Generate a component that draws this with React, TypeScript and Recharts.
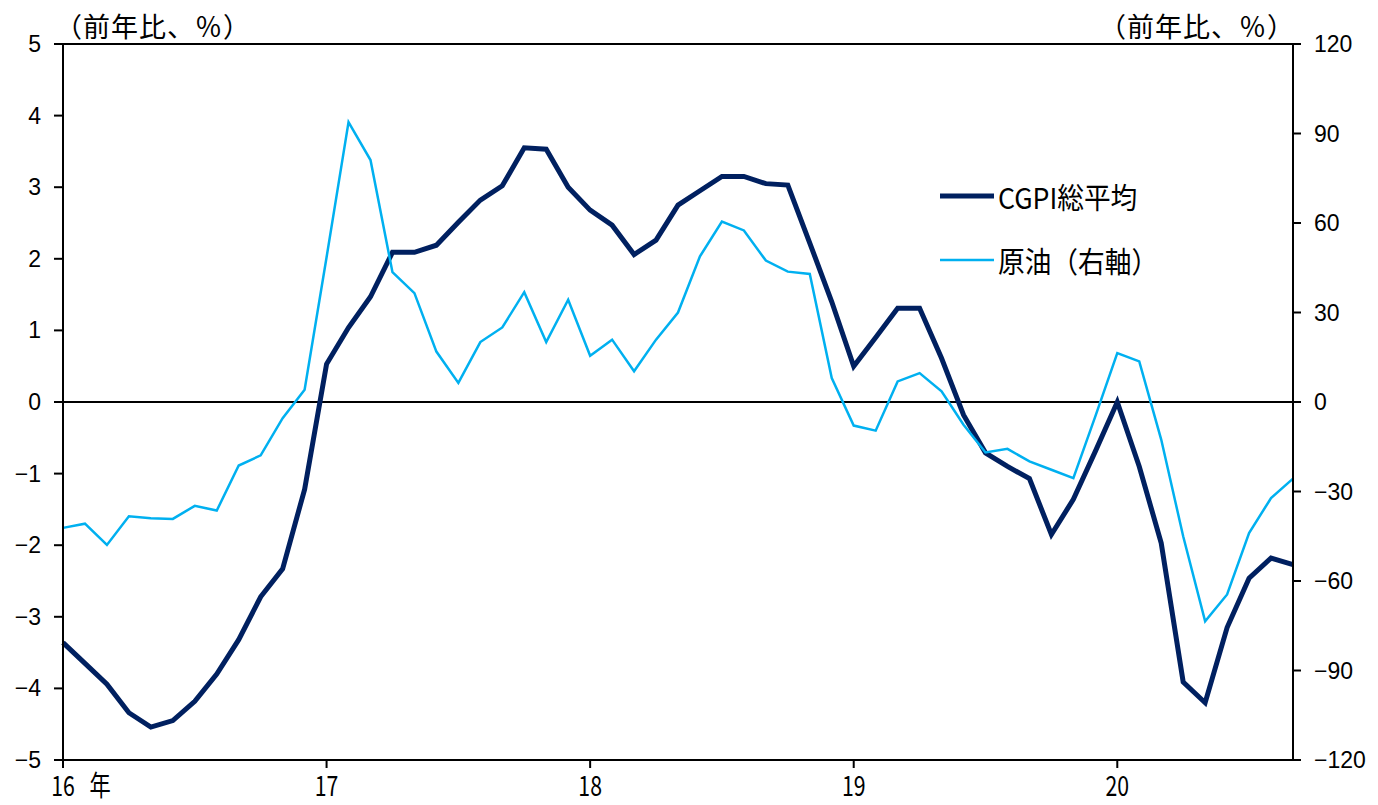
import React from 'react';
import { LineChart, Line, XAxis, YAxis, ReferenceLine, Legend } from 'recharts';

// Monthly observations, Jan 2016 – Sep 2020
const months = [
  '16/01', '16/02', '16/03', '16/04', '16/05', '16/06', '16/07', '16/08', '16/09', '16/10', '16/11', '16/12',
  '17/01', '17/02', '17/03', '17/04', '17/05', '17/06', '17/07', '17/08', '17/09', '17/10', '17/11', '17/12',
  '18/01', '18/02', '18/03', '18/04', '18/05', '18/06', '18/07', '18/08', '18/09', '18/10', '18/11', '18/12',
  '19/01', '19/02', '19/03', '19/04', '19/05', '19/06', '19/07', '19/08', '19/09', '19/10', '19/11', '19/12',
  '20/01', '20/02', '20/03', '20/04', '20/05', '20/06', '20/07', '20/08', '20/09',
];

// CGPI overall average, y/y % (left axis)
const cgpi = [
  -3.36, -3.65, -3.94, -4.34, -4.54, -4.45, -4.18, -3.8, -3.32, -2.72, -2.33, -1.22,
  0.53, 1.04, 1.47, 2.09, 2.09, 2.19, 2.51, 2.82, 3.02, 3.55, 3.53, 3.0,
  2.68, 2.47, 2.06, 2.26, 2.75, 2.95, 3.15, 3.15, 3.05, 3.03, 2.22, 1.4,
  0.5, 0.9, 1.31, 1.31, 0.61, -0.18, -0.71, -0.9, -1.07, -1.85, -1.36, -0.69,
  0.0, -0.9, -1.97, -3.91, -4.2, -3.15, -2.46, -2.18, -2.27,
];

// Crude oil, y/y % (right axis)
const crudeOil = [
  -42.2, -40.8, -47.9, -38.3, -39.0, -39.2, -34.8, -36.4, -21.3, -17.9, -5.4, 4.1,
  48.5, 93.8, 81.1, 43.5, 36.5, 16.9, 6.4, 20.1, 25.0, 36.8, 20.1, 34.3,
  15.5, 20.9, 10.3, 20.9, 30.0, 48.8, 60.5, 57.5, 47.4, 43.7, 42.9, 8.0,
  -7.9, -9.6, 6.9, 9.7, 3.6, -7.6, -16.9, -15.7, -19.9, -22.7, -25.5, -4.8,
  16.4, 13.6, -12.6, -45.0, -73.5, -64.5, -43.9, -32.2, -25.7,
];

const yearTicks = ['16/01', '17/01', '18/01', '19/01', '20/01'];
const yearLabels = ['16', '17', '18', '19', '20'];
const firstYearSuffix = '年';
const leftTicks = [-5, -4, -3, -2, -1, 0, 1, 2, 3, 4, 5];
const rightTicks = [-120, -90, -60, -30, 0, 30, 60, 90, 120];
const unitLabel = '（前年比、％）';
const seriesNames = ['CGPI総平均', '原油（右軸）'];

const data = months.map((m, i) => ({ month: m, cgpi: cgpi[i], oil: crudeOil[i] }));

const NAVY = '#002060';
const SKY = '#00B0F0';
const JP_FONT = "'Noto Sans CJK JP', 'Noto Sans', sans-serif";
const NUM_FONT = "'Liberation Sans', Arial, sans-serif";
const legendStroke = [5, 2.5];

const fmt = (v: number) => (v < 0 ? '\u2212' + Math.abs(v) : String(v));

const LeftTick = (props: any) => {
  const { x, y, payload } = props;
  return (
    <text x={x} y={y} textAnchor="end" dominantBaseline="central" fontFamily={NUM_FONT} fontSize={23} fill="#000">
      {fmt(payload.value)}
    </text>
  );
};

const RightTick = (props: any) => {
  const { x, y, payload } = props;
  return (
    <text x={x} y={y} textAnchor="start" dominantBaseline="central" fontFamily={NUM_FONT} fontSize={23} fill="#000">
      {fmt(payload.value)}
    </text>
  );
};

const YearTick = (props: any) => {
  const { x, y, payload } = props;
  const idx = yearTicks.indexOf(payload.value);
  const label = yearLabels[idx];
  return (
    <g transform={`translate(${x},${y + 26})`}>
      <g transform="scale(0.76,1)">
        <text x={0} y={0} textAnchor="middle" fontFamily={JP_FONT} fontSize={28} fill="#000">
          {label}
        </text>
        {idx === 0 && (
          <text x={49} y={0} textAnchor="middle" fontFamily={JP_FONT} fontSize={28} fill="#000">
            {firstYearSuffix}
          </text>
        )}
      </g>
    </g>
  );
};

const LegendBox = (props: any) => {
  const { payload } = props;
  return (
    <div>
      {(payload || []).map((entry: any, i: number) => (
        <div key={i} style={{ display: 'flex', alignItems: 'center', height: 64 }}>
          <svg width={54} height={10} style={{ display: 'block' }}>
            <line x1={0} x2={54} y1={5} y2={5} stroke={entry.color} strokeWidth={legendStroke[i]} strokeLinecap="round" />
          </svg>
          <span
            style={{
              marginLeft: 4,
              fontFamily: JP_FONT,
              fontSize: 29,
              color: '#000',
              whiteSpace: 'nowrap',
              display: 'inline-block',
              transform: 'scaleX(0.92)',
              transformOrigin: 'left center',
              lineHeight: 1,
            }}
          >
            {entry.value}
          </span>
        </div>
      ))}
    </div>
  );
};

const titleStyle: React.CSSProperties = {
  position: 'absolute',
  top: 10,
  fontFamily: JP_FONT,
  fontSize: 27,
  letterSpacing: 1,
  lineHeight: '32px',
  color: '#000',
  whiteSpace: 'nowrap',
};

export default function App() {
  return (
    <div style={{ position: 'absolute', left: 0, top: 0, width: 1378, height: 805, background: '#fff' }}>
      <LineChart width={1378} height={805} data={data} margin={{ top: 44, right: 0, bottom: 0, left: 0 }}>
        <XAxis
          dataKey="month"
          ticks={yearTicks}
          interval={0}
          height={45}
          padding={{ left: 0, right: 0 }}
          tickSize={8}
          tickMargin={2}
          axisLine={{ stroke: '#000', strokeWidth: 2 }}
          tickLine={{ stroke: '#000', strokeWidth: 2 }}
          tick={<YearTick />}
        />
        <YAxis
          yAxisId="left"
          orientation="left"
          domain={[-5, 5]}
          ticks={leftTicks}
          width={63}
          tickSize={9}
          tickMargin={13}
          axisLine={{ stroke: '#000', strokeWidth: 2 }}
          tickLine={{ stroke: '#000', strokeWidth: 2 }}
          tick={<LeftTick />}
        />
        <YAxis
          yAxisId="right"
          orientation="right"
          domain={[-120, 120]}
          ticks={rightTicks}
          width={85}
          tickSize={8}
          tickMargin={13}
          axisLine={{ stroke: '#000', strokeWidth: 2 }}
          tickLine={{ stroke: '#000', strokeWidth: 2 }}
          tick={<RightTick />}
        />
        <ReferenceLine yAxisId="left" y={5} stroke="#000" strokeWidth={2} />
        <ReferenceLine yAxisId="left" y={0} stroke="#000" strokeWidth={1.8} />
        <Line
          yAxisId="left"
          dataKey="cgpi"
          name={seriesNames[0]}
          stroke={NAVY}
          strokeWidth={5}
          dot={false}
          isAnimationActive={false}
        />
        <Line
          yAxisId="right"
          dataKey="oil"
          name={seriesNames[1]}
          stroke={SKY}
          strokeWidth={2.5}
          dot={false}
          isAnimationActive={false}
        />
        <Legend
          verticalAlign="middle"
          align="center"
          layout="vertical"
          content={<LegendBox />}
          wrapperStyle={{ left: 940, top: 164, width: 260 }}
        />
      </LineChart>
      <div style={{ ...titleStyle, left: 55 }}>{unitLabel}</div>
      <div style={{ ...titleStyle, right: 1378 - 1295 }}>{unitLabel}</div>
    </div>
  );
}
